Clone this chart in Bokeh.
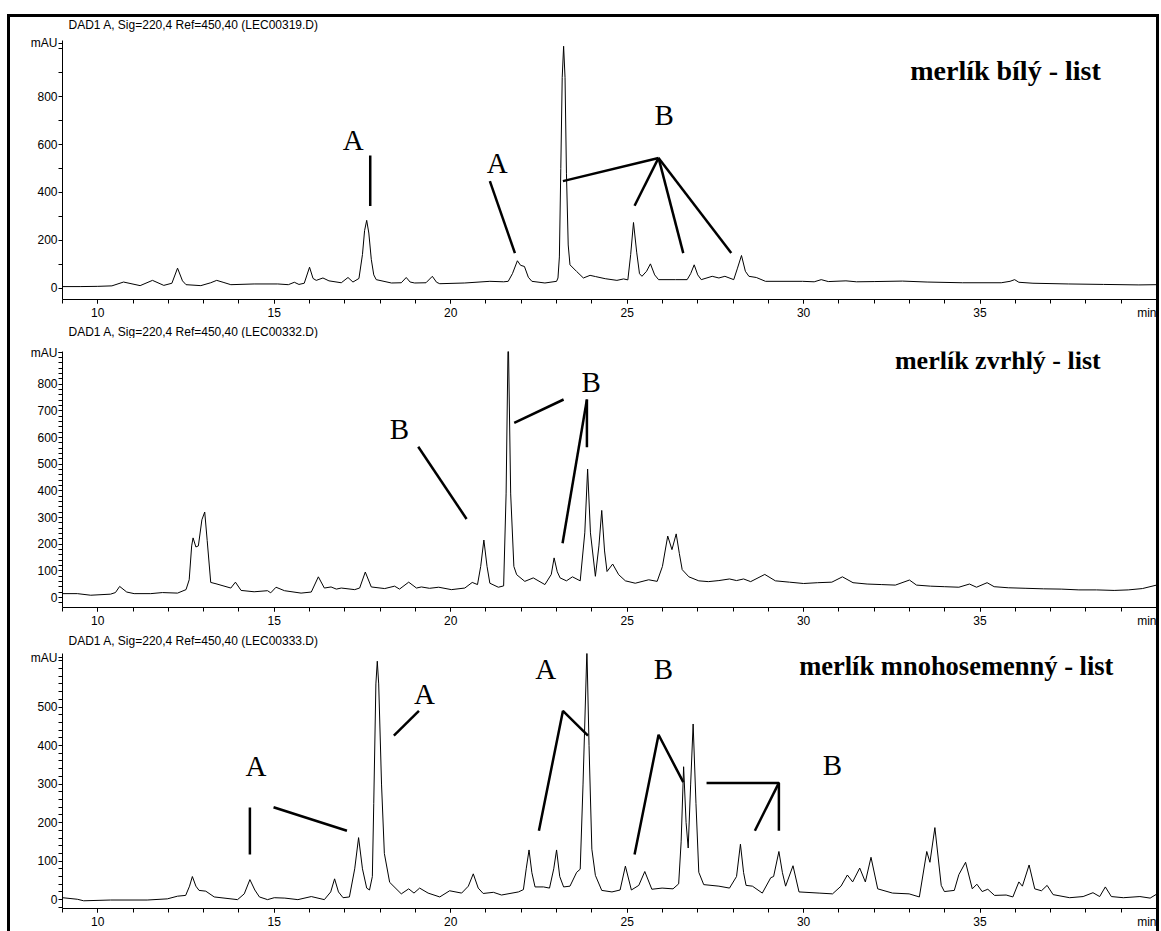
from bokeh.plotting import figure
from bokeh.layouts import column
from bokeh.models import FixedTicker, Range1d
from bokeh.core.properties import value
from bokeh.embed import file_html
from bokeh.resources import INLINE

# ---------------- data ----------------
# Panel 1: merlík bílý - list  (time [min], signal [mAU])
p1_t = [9.0, 9.5, 10.0, 10.4, 10.73, 11.2, 11.55, 11.87, 12.1, 12.26, 12.4, 12.5, 12.92, 13.2, 13.37,
        13.55, 13.77, 14.43, 15.1, 15.4, 15.57, 15.7, 15.85, 16.0, 16.1, 16.19, 16.38, 16.55, 16.9,
        17.09, 17.23, 17.4, 17.5, 17.56, 17.62, 17.68, 17.75, 17.82, 17.89, 18.32, 18.6, 18.74, 18.85,
        18.98, 19.3, 19.48, 19.6, 19.69, 20.4, 21.11, 21.5, 21.63, 21.75, 21.89, 21.98, 22.09, 22.2,
        22.3, 22.67, 23.0, 23.04, 23.08, 23.12, 23.16, 23.2, 23.24, 23.28, 23.33, 23.38, 23.57, 23.76,
        23.95, 24.1, 24.38, 24.71, 24.9, 25.02, 25.1, 25.18, 25.27, 25.35, 25.42, 25.55, 25.66, 25.78,
        25.89, 26.37, 26.7, 26.8, 26.9, 27.0, 27.1, 27.41, 27.6, 27.77, 28.02, 28.12, 28.24, 28.35,
        28.45, 28.66, 28.92, 29.97, 30.3, 30.5, 30.7, 31.2, 31.5, 32.0, 32.8, 33.5, 34.5, 35.6, 35.85,
        35.98, 36.1, 36.5, 37.5, 38.5, 39.5, 40.0]
p1_v = [6, 6, 7, 9, 25, 10, 32, 11, 20, 83, 30, 14, 10, 22, 32,
        24, 14, 17, 17, 14, 24, 15, 20, 87, 40, 32, 42, 30, 22,
        44, 25, 40, 140, 240, 283, 230, 120, 55, 35, 21, 22, 44, 25,
        21, 22, 49, 24, 18, 21, 28, 26, 28, 60, 114, 95, 90, 45,
        28, 21, 28, 42, 130, 500, 880, 1011, 880, 480, 180, 97, 69, 42,
        53, 48, 39, 32, 38, 34, 140, 274, 150, 60, 49, 70, 101, 55,
        35, 35, 35, 60, 97, 55, 35, 49, 42, 49, 35, 80, 136, 70,
        49, 44, 28, 28, 26, 35, 27, 30, 26, 27, 29, 25, 22, 22, 28,
        35, 24, 20, 17, 15, 13, 14]

# Panel 2: merlík zvrhlý - list
p2_t = [9.0, 9.42, 9.8, 10.36, 10.5, 10.62, 10.82, 11.03, 11.5, 11.83, 12.26, 12.5, 12.59, 12.66,
        12.7, 12.78, 12.85, 12.95, 13.03, 13.1, 13.2, 13.35, 13.77, 13.9, 14.06, 14.43, 14.81, 14.9,
        15.05, 15.29, 15.76, 16.05, 16.25, 16.42, 16.61, 16.76, 16.9, 17.28, 17.42, 17.58, 17.75,
        18.13, 18.41, 18.55, 18.81, 19.03, 19.17, 19.4, 19.66, 20.02, 20.4, 20.61, 20.76, 20.85,
        20.94, 21.03, 21.11, 21.35, 21.5, 21.57, 21.63, 21.7, 21.79, 21.87, 22.1, 22.34, 22.67,
        22.85, 22.93, 23.02, 23.1, 23.28, 23.45, 23.67, 23.8, 23.88, 23.96, 24.1, 24.2, 24.28,
        24.36, 24.43, 24.59, 24.76, 24.95, 25.23, 25.61, 25.85, 26.0, 26.15, 26.27, 26.39, 26.48,
        26.56, 26.75, 27.03, 27.3, 27.6, 27.9, 28.1, 28.3, 28.5, 28.9, 29.2, 29.6, 30.0, 30.4,
        30.8, 31.1, 31.4, 31.8, 32.2, 32.6, 33.0, 33.2, 33.6, 34.0, 34.4, 34.7, 34.9, 35.2, 35.4,
        35.8, 36.3, 36.8, 37.3, 37.8, 38.3, 38.8, 39.2, 39.6, 40.0]
p2_v = [15, 15, 9, 13, 19, 42, 21, 15, 15, 19, 17, 30, 67, 194,
        224, 190, 194, 292, 321, 214, 57, 52, 36, 58, 27, 22, 26, 18,
        39, 26, 17, 21, 78, 36, 40, 32, 36, 30, 36, 96, 40,
        34, 43, 32, 58, 36, 40, 35, 39, 30, 36, 57, 49, 117,
        216, 117, 54, 39, 44, 389, 1000, 389, 117, 86, 61, 74, 49,
        87, 149, 97, 74, 63, 78, 63, 243, 482, 243, 80, 194, 327,
        175, 98, 126, 86, 63, 54, 67, 61, 117, 231, 180, 239, 165,
        105, 78, 63, 60, 64, 70, 64, 70, 60, 87, 63, 58, 53, 56,
        58, 78, 56, 51, 49, 47, 66, 47, 43, 41, 39, 51, 39, 56, 41,
        37, 35, 33, 32, 29, 29, 27, 29, 34, 47]

# Panel 3: merlík mnohosemenný - list
p3_t = [9.0, 9.42, 9.6, 10.36, 11.4, 11.97, 12.26, 12.49, 12.6, 12.68, 12.78, 12.87, 13.06, 13.3,
        13.96, 14.15, 14.31, 14.45, 14.58, 14.81, 15.0, 15.3, 15.67, 16.05, 16.42, 16.6, 16.71,
        16.82, 16.95, 17.13, 17.28, 17.39, 17.5, 17.62, 17.7, 17.78, 17.82, 17.88, 17.92, 17.96,
        18.04, 18.12, 18.27, 18.6, 18.81, 18.96, 19.12, 19.36, 19.69, 19.97, 20.31, 20.5, 20.64,
        20.78, 20.92, 21.21, 21.44, 21.92, 22.06, 22.14, 22.22, 22.3, 22.39, 22.63, 22.8, 22.92,
        23.0, 23.09, 23.2, 23.38, 23.57, 23.67, 23.75, 23.86, 23.92, 24.0, 24.1, 24.28, 24.57,
        24.8, 24.95, 25.12, 25.33, 25.5, 25.7, 25.99, 26.3, 26.46, 26.53, 26.6, 26.67, 26.73,
        26.8, 26.87, 26.95, 27.03, 27.17, 27.6, 27.9, 28.1, 28.21, 28.3, 28.37, 28.55, 28.83,
        29.07, 29.15, 29.3, 29.4, 29.49, 29.7, 29.87, 30.44, 30.82, 31.06, 31.24, 31.39, 31.59,
        31.75, 31.91, 32.1, 32.52, 32.99, 33.28, 33.49, 33.58, 33.72, 33.9, 33.99, 34.27, 34.4,
        34.59, 34.78, 34.91, 35.06, 35.22, 35.41, 35.74, 35.93, 36.1, 36.2, 36.39, 36.55, 36.74,
        36.9, 37.07, 37.54, 37.92, 38.2, 38.39, 38.55, 38.72, 39.06, 39.53, 39.82, 40.0]
p3_v = [5, 1, -3, -1, -1, 2, 9, 11, 35, 60, 35, 24, 22, 7,
        0, 15, 52, 25, 7, 0, 5, 4, 0, 8, 0, 20, 54,
        20, 5, 7, 80, 161, 80, 30, 25, 60, 250, 560, 619, 560,
        300, 120, 45, 15, 28, 17, 30, 17, 7, 23, 17, 35, 67,
        30, 16, 19, 12, 20, 26, 80, 129, 70, 33, 33, 30, 80,
        129, 60, 33, 35, 71, 79, 300, 650, 400, 131, 63, 24, 20,
        25, 87, 25, 37, 73, 27, 30, 28, 41, 150, 345, 200, 134,
        300, 456, 250, 71, 39, 35, 30, 60, 144, 70, 37, 35, 17,
        57, 60, 125, 70, 35, 88, 20, 17, 15, 35, 64, 46, 82,
        46, 110, 28, 17, 15, 7, 125, 97, 187, 37, 21, 24, 65,
        97, 28, 40, 21, 27, 11, 12, 7, 46, 35, 90, 28, 23,
        37, 13, 5, 8, 18, 8, 33, 8, 5, 8, 4, 14]

headers = ["DAD1 A, Sig=220,4 Ref=450,40 (LEC00319.D)",
           "DAD1 A, Sig=220,4 Ref=450,40 (LEC00332.D)",
           "DAD1 A, Sig=220,4 Ref=450,40 (LEC00333.D)"]
titles = ["merlík bílý - list", "merlík zvrhlý - list", "merlík mnohosemenný - list"]
title_pos = [(38.42, 908), (38.42, 890), (38.78, 606)]
title_size = ["28px", "26px", "26.5px"]

# annotation letters (time, mAU, letter) and leader lines
p1_letters = [(17.24, 621, "A"), (21.32, 521, "A"), (26.05, 722, "B")]
p1_lines = [([17.72, 17.72], [554, 343]), ([21.11, 21.82], [447, 146]),
            ([25.89, 23.18], [544, 447]), ([25.89, 25.21], [544, 344]),
            ([25.89, 26.59], [544, 146]), ([25.89, 27.95], [544, 146])]
p2_letters = [(18.55, 631, "B"), (23.98, 809, "B")]
p2_lines = [([19.08, 20.45], [566, 295]), ([21.8, 23.2], [655, 743]),
            ([23.86, 23.86], [743, 564]), ([23.86, 23.17], [743, 204])]
p3_letters = [(14.48, 348, "A"), (19.26, 535, "A"), (22.69, 600, "A"), (26.03, 598, "B"), (30.82, 350, "B")]
p3_lines = [([14.31, 14.31], [239, 117]), ([14.98, 17.06], [240, 179]),
            ([19.1, 18.39], [490, 426]), ([22.5, 23.18, 23.89], [179, 490, 426]),
            ([25.21, 25.89, 26.59], [117, 428, 305]), ([27.25, 29.3, 29.3], [303, 303, 179]),
            ([29.3, 28.62], [303, 179])]

# axes
x_span = (9, 40)
y_ranges = [(-48, 1035), (-37, 923), (-23, 639)]
y_major_ticks = [[0, 200, 400, 600, 800], [0, 100, 200, 300, 400, 500, 600, 700, 800],
                 [0, 100, 200, 300, 400, 500]]
y_minor_step = [100, 20, 20]
y_unit_pos = [1023, 918, 628]          # where the "mAU" unit label sits on each y axis
x_major_ticks = [10, 15, 20, 25, 30, 35, 40]
x_minor_ticks = list(range(9, 41))
header_x = 9.17                         # header text starts just right of the y axis

SANS = "Liberation Sans"
SERIF = "Liberation Serif"
W = 1146


def header(i, height, ytext):
    h = figure(width=W, height=height, x_range=Range1d(*x_span), y_range=Range1d(0, height),
               output_backend="svg", toolbar_location=None, x_axis_location=None,
               y_axis_location=None, min_border=0, min_border_left=52, min_border_right=0)
    h.outline_line_color = None
    h.xgrid.grid_line_color = None
    h.ygrid.grid_line_color = None
    h.text([header_x], [ytext], text=[headers[i]], text_font=value(SANS), text_font_size="12px",
           text_align="left", text_baseline="middle", text_color="black")
    return h


def panel(i, t, v, letters, lines, height, btop, bbot):
    yr = y_ranges[i]
    p = figure(width=W, height=height, x_range=Range1d(*x_span), y_range=Range1d(*yr),
               output_backend="svg", toolbar_location=None,
               min_border_left=52, min_border_right=0, min_border_top=btop, min_border_bottom=bbot)
    p.outline_line_color = None
    p.xgrid.grid_line_color = None
    p.ygrid.grid_line_color = None
    p.background_fill_color = "white"
    p.border_fill_color = "white"

    p.line(t, v, line_color="black", line_width=1)

    for xs, ys in lines:
        p.line(xs, ys, line_color="black", line_width=2.5)
    p.text([l[0] for l in letters], [l[1] for l in letters], text=[l[2] for l in letters],
           text_font=value(SERIF), text_font_size="29px", text_align="center",
           text_baseline="middle", text_color="black")
    p.text([title_pos[i][0]], [title_pos[i][1]], text=[titles[i]], text_font=value(SERIF),
           text_font_size=title_size[i], text_font_style="bold", text_align="right",
           text_baseline="middle", text_color="black")

    xa = p.xaxis[0]
    xa.ticker = FixedTicker(ticks=x_major_ticks, minor_ticks=x_minor_ticks)
    xa.major_label_overrides = {40: "min"}
    ya = p.yaxis[0]
    majors = y_major_ticks[i] + [y_unit_pos[i]]
    step = y_minor_step[i]
    minors = [m for m in range(-step, int(yr[1]), step) if m not in y_major_ticks[i] and m > yr[0]]
    ya.ticker = FixedTicker(ticks=majors, minor_ticks=minors)
    ya.major_label_overrides = {y_unit_pos[i]: "mAU"}
    for ax in (xa, ya):
        ax.axis_line_color = "black"
        ax.major_tick_line_color = "black"
        ax.minor_tick_line_color = "black"
        ax.major_tick_in = 0
        ax.minor_tick_in = 0
        ax.major_tick_out = 4
        ax.minor_tick_out = 4
        ax.major_label_text_font = SANS
        ax.major_label_text_font_size = "12px"
        ax.major_label_text_color = "black"
    xa.major_label_standoff = 2
    ya.major_label_standoff = 1
    return p


h1 = header(0, 15, 8)
f1 = panel(0, p1_t, p1_v, p1_letters, p1_lines, 290, 8, 21)
h2 = header(1, 16, 7)
f2 = panel(1, p2_t, p2_v, p2_letters, p2_lines, 292, 13, 22)
h3 = header(2, 18, 8)
f3 = panel(2, p3_t, p3_v, p3_letters, p3_lines, 283, 5, 16)

layout = column(h1, f1, h2, f2, h3, f3, spacing=0,
                styles={"border-left": "3px solid black", "border-right": "3px solid black",
                        "border-top": "3px solid black", "margin-left": "7px", "margin-top": "14px"})

open("out.html", "w").write(file_html(layout, INLINE))
